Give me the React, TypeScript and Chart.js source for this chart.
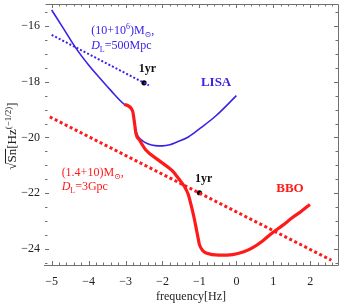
import React, { useEffect, useRef } from "react";
import { Chart, registerables } from "chart.js";

Chart.register(...registerables);

// LISA sensitivity curve (log10 f, log10 sqrt(Sn))
const lisaX = [-5, -4.7, -4.32, -4.0, -3.71, -3.4, -3.03, -2.81, -2.76, -2.72, -2.65, -2.54, -2.4, -2.2, -2.0, -1.8, -1.64, -1.3, -1.01, -0.56, 0];
const lisaY = [-15.43, -16.05, -16.84, -17.4, -17.85, -18.31, -18.81, -19.05, -19.4, -19.75, -19.98, -20.12, -20.22, -20.29, -20.3, -20.26, -20.18, -19.98, -19.7, -19.23, -18.5];

// BBO sensitivity curve
const bboX = [-3.03, -2.81, -2.76, -2.72, -2.62, -2.45, -2.1, -1.73, -1.55, -1.41, -1.3, -1.23, -1.15, -1.09, -1.03, -1.0, -0.9, -0.82, -0.47, -0.1, 0.2, 0.43, 0.7, 0.97, 1.25, 1.51, 1.75, 1.99];
const bboY = [-18.81, -19.05, -19.45, -19.85, -20.1, -20.45, -20.82, -21.2, -21.5, -21.75, -22.05, -22.4, -22.85, -23.24, -23.65, -23.84, -24.07, -24.14, -24.22, -24.2, -24.1, -23.96, -23.72, -23.42, -23.15, -22.88, -22.65, -22.4];

// Binary signal tracks (dotted)
const srcLisaX = [-5, -2.37];
const srcLisaY = [-16.32, -18.13];
const srcBboX = [-5.05, 2.57];
const srcBboY = [-19.26, -24.4];

// "1yr" markers
const yrX = [-2.5, -1.0];
const yrY = [-18.04, -21.98];

// Axis ticks
const xTicks = [-5, -4, -3, -2, -1, 0, 1, 2];
const yTicks = [-16, -18, -20, -22, -24];

const BLUE = "#3a22e6";
const RED = "#ff1a1a";

const pts = (xs: number[], ys: number[]) => xs.map((x, i) => ({ x, y: ys[i] }));

type Seg = { t: string; italic?: boolean; bold?: boolean; sup?: boolean; sub?: boolean };

function drawRich(ctx: CanvasRenderingContext2D, segs: Seg[], x: number, y: number, size: number, color: string) {
  let cx = x;
  ctx.fillStyle = color;
  ctx.textBaseline = "middle";
  ctx.textAlign = "left";
  for (const s of segs) {
    const sz = s.sup || s.sub ? Math.round(size * 0.7) : size;
    ctx.font = `${s.italic ? "italic " : ""}${s.bold ? "bold " : ""}${sz}px "Liberation Serif", "DejaVu Serif", serif`;
    const dy = s.sup ? -size * 0.35 : s.sub ? size * 0.3 : 0;
    ctx.fillText(s.t, cx, y + dy);
    cx += ctx.measureText(s.t).width;
  }
  return cx - x;
}

function measureRich(ctx: CanvasRenderingContext2D, segs: Seg[], size: number) {
  let w = 0;
  for (const s of segs) {
    const sz = s.sup || s.sub ? Math.round(size * 0.7) : size;
    ctx.font = `${s.italic ? "italic " : ""}${s.bold ? "bold " : ""}${sz}px "Liberation Serif", "DejaVu Serif", serif`;
    w += ctx.measureText(s.t).width;
  }
  return w;
}

const framePlugin = {
  id: "framePlugin",
  afterDraw(chart: any) {
    const ctx: CanvasRenderingContext2D = chart.ctx;
    const xs = chart.scales.x;
    const ys = chart.scales.y;
    const { left, right, top, bottom } = chart.chartArea;
    ctx.save();
    // frame
    ctx.strokeStyle = "#707070";
    ctx.lineWidth = 1;
    ctx.beginPath();
    ctx.moveTo(left - 1, bottom + 0.5);
    ctx.lineTo(right + 0.5, bottom + 0.5);
    ctx.lineTo(right + 0.5, top + 0.5);
    ctx.lineTo(left + 0.5, top + 0.5);
    ctx.stroke();
    // ticks
    ctx.beginPath();
    const xMin = Math.ceil(xs.min * 5) / 5;
    for (let v = xMin; v <= xs.max + 1e-9; v += 0.2) {
      const r = Math.round(v * 5) / 5;
      const major = Math.abs(r - Math.round(r)) < 1e-6;
      const len = major ? 4 : 2.5;
      const px = Math.round(xs.getPixelForValue(r)) + 0.5;
      ctx.moveTo(px, bottom);
      ctx.lineTo(px, bottom - len);
      ctx.moveTo(px, top);
      ctx.lineTo(px, top + len);
    }
    const yMin = Math.ceil(ys.min * 2) / 2;
    for (let v = yMin; v <= ys.max + 1e-9; v += 0.5) {
      const r = Math.round(v * 2) / 2;
      const major = Math.abs(r / 2 - Math.round(r / 2)) < 1e-6;
      const len = major ? 4 : 2.5;
      const py = Math.round(ys.getPixelForValue(r)) + 0.5;
      ctx.moveTo(left, py);
      ctx.lineTo(left + len, py);
      ctx.moveTo(right, py);
      ctx.lineTo(right - len, py);
    }
    ctx.stroke();

    // tick labels
    ctx.fillStyle = "#222";
    ctx.font = '12px "Liberation Serif", serif';
    ctx.textAlign = "center";
    ctx.textBaseline = "middle";
    for (const v of xTicks) {
      ctx.fillText(String(v).replace("-", "\u2212"), xs.getPixelForValue(v), bottom + 17);
    }
    ctx.textAlign = "right";
    for (const v of yTicks) {
      ctx.fillText(String(v).replace("-", "\u2212"), left - 5, ys.getPixelForValue(v));
    }
    // x title
    ctx.textAlign = "center";
    ctx.font = '12px "Liberation Serif", serif';
    ctx.fillText("frequency[Hz]", 191, 297);

    // y title (rotated)
    ctx.save();
    ctx.translate(13, 136);
    ctx.rotate(-Math.PI / 2);
    const ySegs: Seg[] = [{ t: "\u221A" }, { t: "Sn" }, { t: "[Hz" }, { t: "(\u22121/2)", sup: true }, { t: "]" }];
    const w = measureRich(ctx, ySegs, 13);
    const x0 = -w / 2;
    drawRich(ctx, ySegs, x0, 0, 13, "#222");
    // overline over "Sn"
    ctx.font = '13px "Liberation Serif", serif';
    const wr = ctx.measureText("\u221A").width;
    const wsn = ctx.measureText("Sn").width;
    ctx.strokeStyle = "#222";
    ctx.lineWidth = 1;
    ctx.beginPath();
    ctx.moveTo(x0 + wr - 1, -7.5);
    ctx.lineTo(x0 + wr + wsn, -7.5);
    ctx.stroke();
    ctx.restore();

    // annotations (anchored in data coords)
    const X = (v: number) => xs.getPixelForValue(v);
    const Y = (v: number) => ys.getPixelForValue(v);
    drawRich(ctx, [{ t: "(10+10" }, { t: "6", sup: true }, { t: ")M" }, { t: "\u2299", sub: true }, { t: "," }], X(-3.93), Y(-16.18), 12, BLUE);
    drawRich(ctx, [{ t: "D", italic: true }, { t: "L", sub: true }, { t: "=500Mpc" }], X(-3.93), Y(-16.72), 12, BLUE);
    drawRich(ctx, [{ t: "(1.4+10)M" }, { t: "\u2299", sub: true }, { t: "," }], X(-4.73), Y(-21.27), 12, RED);
    drawRich(ctx, [{ t: "D", italic: true }, { t: "L", sub: true }, { t: "=3Gpc" }], X(-4.73), Y(-21.77), 12, RED);

    ctx.textAlign = "center";
    ctx.textBaseline = "middle";
    ctx.font = 'bold 12px "Liberation Serif", serif';
    ctx.fillStyle = "#111";
    ctx.fillText("1yr", X(-2.41), Y(-17.54));
    ctx.fillText("1yr", X(-0.885), Y(-21.48));
    ctx.font = 'bold 13px "Liberation Serif", serif';
    ctx.fillStyle = BLUE;
    ctx.fillText("LISA", X(-0.55), Y(-18.04));
    ctx.fillStyle = RED;
    ctx.fillText("BBO", X(1.45), Y(-21.84));
    ctx.restore();
  },
};

export default function App() {
  const ref = useRef<HTMLCanvasElement>(null);
  useEffect(() => {
    if (!ref.current) return;
    const chart = new Chart(ref.current, {
      type: "scatter",
      data: {
        datasets: [
          {
            data: pts(bboX, bboY),
            showLine: true,
            borderColor: RED,
            borderWidth: 3.2,
            pointRadius: 0,
            cubicInterpolationMode: "monotone",
          },
          {
            data: pts(lisaX, lisaY),
            showLine: true,
            borderColor: BLUE,
            borderWidth: 1.6,
            pointRadius: 0,
            cubicInterpolationMode: "monotone",
          },
          {
            data: pts(srcLisaX, srcLisaY),
            showLine: true,
            borderColor: BLUE,
            borderWidth: 2,
            borderDash: [2, 2],
            pointRadius: 0,
          },
          {
            data: pts(srcBboX, srcBboY),
            showLine: true,
            borderColor: RED,
            borderWidth: 3,
            borderDash: [3, 2.6],
            pointRadius: 0,
          },
          {
            data: pts(yrX, yrY),
            showLine: false,
            pointRadius: 2.6,
            pointBackgroundColor: "#000",
            pointBorderColor: "#000",
            borderWidth: 0,
          },
        ],
      },
      options: {
        responsive: false,
        animation: false,
        layout: { padding: { left: 45, right: 3, top: 3, bottom: 42 } },
        plugins: { legend: { display: false }, tooltip: { enabled: false } },
        scales: {
          x: { type: "linear", min: -5.18, max: 2.75, display: false },
          y: { type: "linear", min: -24.571, max: -15.214, display: false },
        },
      },
      plugins: [framePlugin],
    });
    return () => chart.destroy();
  }, []);
  return (
    <div style={{ position: "fixed", left: 0, top: 0, width: 342, height: 307, background: "#fff" }}>
      <canvas ref={ref} width={342} height={307} />
    </div>
  );
}
